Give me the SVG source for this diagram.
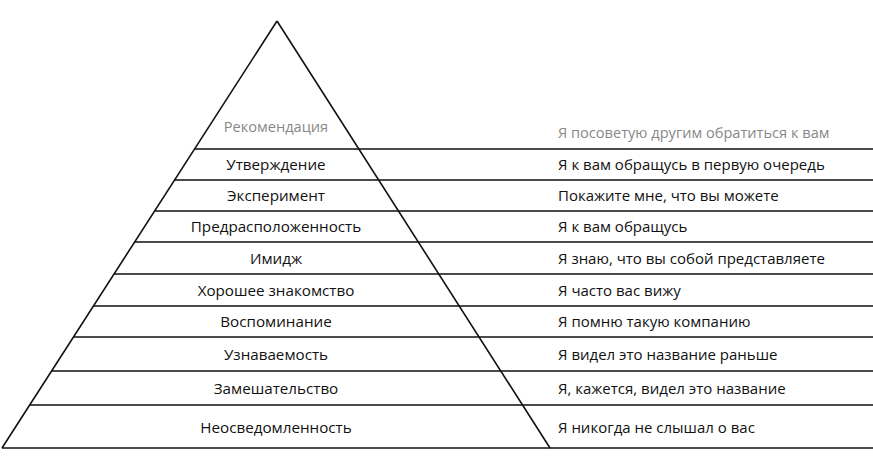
<svg xmlns="http://www.w3.org/2000/svg" width="873" height="459" viewBox="0 0 873 459">
<style>
.ln{stroke:#111;stroke-width:1.6;fill:none}
.l{font-family:"Open Sans","Liberation Sans",sans-serif;font-size:15.2px;fill:#111;text-anchor:middle}
.r{font-family:"Open Sans","Liberation Sans",sans-serif;font-size:15px;fill:#111}
.g{fill:#888;font-size:14.6px}
</style>
<rect width="873" height="459" fill="#fff"/>
<g id="connectors">
<path class="ln" d="M277,21 L2,448 M277,21 L550,448"/>
<path class="ln" d="M194.6,149 H873 M174.6,180 H873 M154.6,211 H873 M134.7,242 H873 M114.1,274 H873 M93.5,306 H873 M73.6,337 H873 M51.7,371 H873 M29.8,405 H873 M2,448 H873"/>
</g>
<g id="level1"><text class="l g" x="276" y="132">Рекомендация</text><text class="r g" x="558" y="138">Я посоветую другим обратиться к вам</text></g>
<g id="level2"><text class="l" x="276" y="170">Утверждение</text><text class="r" x="558" y="170">Я к вам обращусь в первую очередь</text></g>
<g id="level3"><text class="l" x="276" y="201">Эксперимент</text><text class="r" x="558" y="201">Покажите мне, что вы можете</text></g>
<g id="level4"><text class="l" x="276" y="232">Предрасположенность</text><text class="r" x="558" y="232">Я к вам обращусь</text></g>
<g id="level5"><text class="l" x="276" y="263.5">Имидж</text><text class="r" x="558" y="263.5">Я знаю, что вы собой представляете</text></g>
<g id="level6"><text class="l" x="276" y="295.5">Хорошее знакомство</text><text class="r" x="558" y="295.5">Я часто вас вижу</text></g>
<g id="level7"><text class="l" x="276" y="327">Воспоминание</text><text class="r" x="558" y="327">Я помню такую компанию</text></g>
<g id="level8"><text class="l" x="276" y="359.5">Узнаваемость</text><text class="r" x="558" y="359.5">Я видел это название раньше</text></g>
<g id="level9"><text class="l" x="276" y="393.5">Замешательство</text><text class="r" x="558" y="393.5">Я, кажется, видел это название</text></g>
<g id="level10"><text class="l" x="276" y="433">Неосведомленность</text><text class="r" x="558" y="433">Я никогда не слышал о вас</text></g>
</svg>
